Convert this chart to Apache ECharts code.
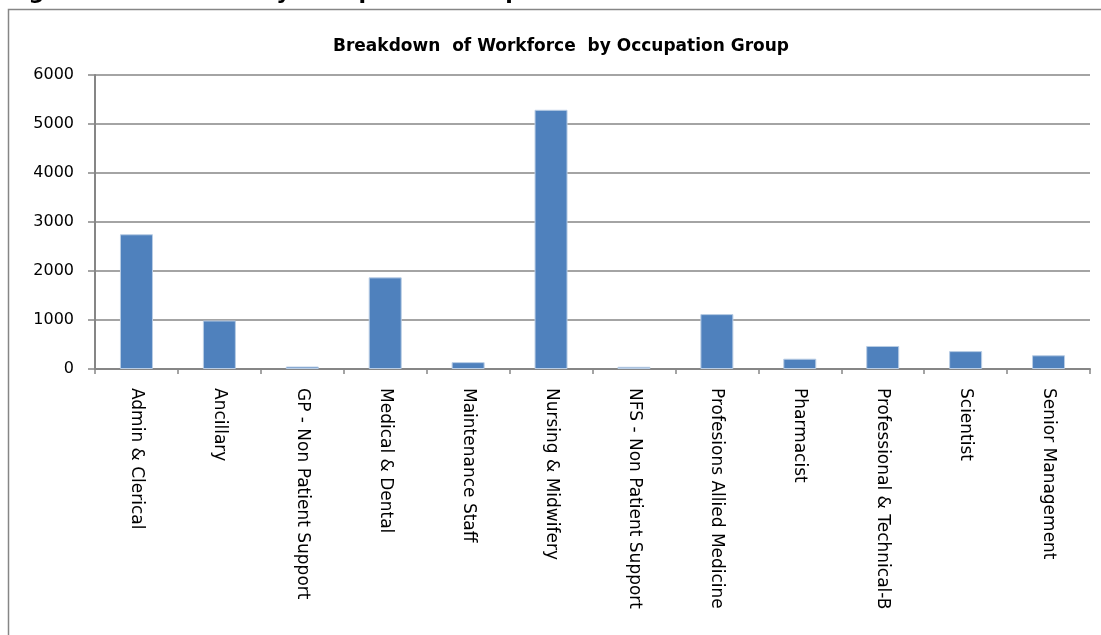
<!DOCTYPE html>
<html>
<head>
<meta charset="utf-8">
<script src="https://cdn.jsdelivr.net/npm/echarts@6/dist/echarts.min.js"></script>
<style>
  html, body { margin: 0; padding: 0; background: #fff; }
  #chartWrap { width: 1101px; height: 635px; }
</style>
</head>
<body>
<div id="chartWrap"></div>
<script>
// categories and headcounts
const categories = [
    'Admin & Clerical', 'Ancillary', 'GP - Non Patient Support', 'Medical & Dental',
    'Maintenance Staff', 'Nursing & Midwifery', 'NFS - Non Patient Support',
    'Profesions Allied Medicine', 'Pharmacist', 'Professional & Technical-B',
    'Scientist', 'Senior Management'
];
const headcount = [2750, 990, 50, 1870, 140, 5290, 45, 1120, 210, 470, 365, 280];
const yTicks = [0, 1000, 2000, 3000, 4000, 5000, 6000];

const myChart = echarts.init(document.getElementById('chartWrap'));
const gray = '#868686';

myChart.setOption({
    animation: false,
    title: {
        text: 'Breakdown  of Workforce  by Occupation Group',
        left: 556,
        textAlign: 'center',
        top: 33,
        textStyle: {
            fontFamily: 'DejaVu Sans',
            fontWeight: 'bold',
            fontSize: 17,
            color: '#000'
        }
    },
    graphic: [
        {
            type: 'rect',
            shape: {x: 8.5, y: 9.5, width: 1200, height: 700},
            style: {fill: 'none', stroke: gray, lineWidth: 1.5},
            silent: true
        },
        {
            // caption above the frame, cut off by the top edge
            type: 'text',
            x: 6,
            y: 4,
            style: {
                text: 'Figure 7: Workforce by Occupation Group',
                font: 'bold 22px "DejaVu Sans"',
                verticalAlign: 'bottom',
                fill: '#000'
            },
            silent: true
        }
    ],
    grid: {left: 95, right: 11, top: 75, bottom: 266},
    xAxis: {
        type: 'category',
        data: categories,
        axisLine: {lineStyle: {color: gray, width: 2}},
        axisTick: {show: true, length: 5, lineStyle: {color: gray, width: 1.5}},
        axisLabel: {
            interval: 0,
            rotate: -90,
            margin: 19,
            fontFamily: 'DejaVu Sans',
            fontSize: 17,
            color: '#000'
        }
    },
    yAxis: {
        type: 'value',
        min: yTicks[0],
        max: yTicks[yTicks.length - 1],
        interval: 1000,
        axisLine: {show: true, lineStyle: {color: gray, width: 2}},
        axisTick: {show: true, length: 7, lineStyle: {color: gray, width: 1.5}},
        splitLine: {lineStyle: {color: gray, width: 1.5}},
        axisLabel: {
            margin: 21,
            fontFamily: 'DejaVu Sans',
            fontSize: 16,
            color: '#000',
            formatter: function (v) { return String(v); }
        }
    },
    series: [{
        name: 'Headcount',
        type: 'bar',
        data: headcount,
        barWidth: 33,
        itemStyle: {color: '#4f81bd', borderColor: '#b9cde5', borderWidth: 1}
    }]
});
</script>
</body>
</html>
